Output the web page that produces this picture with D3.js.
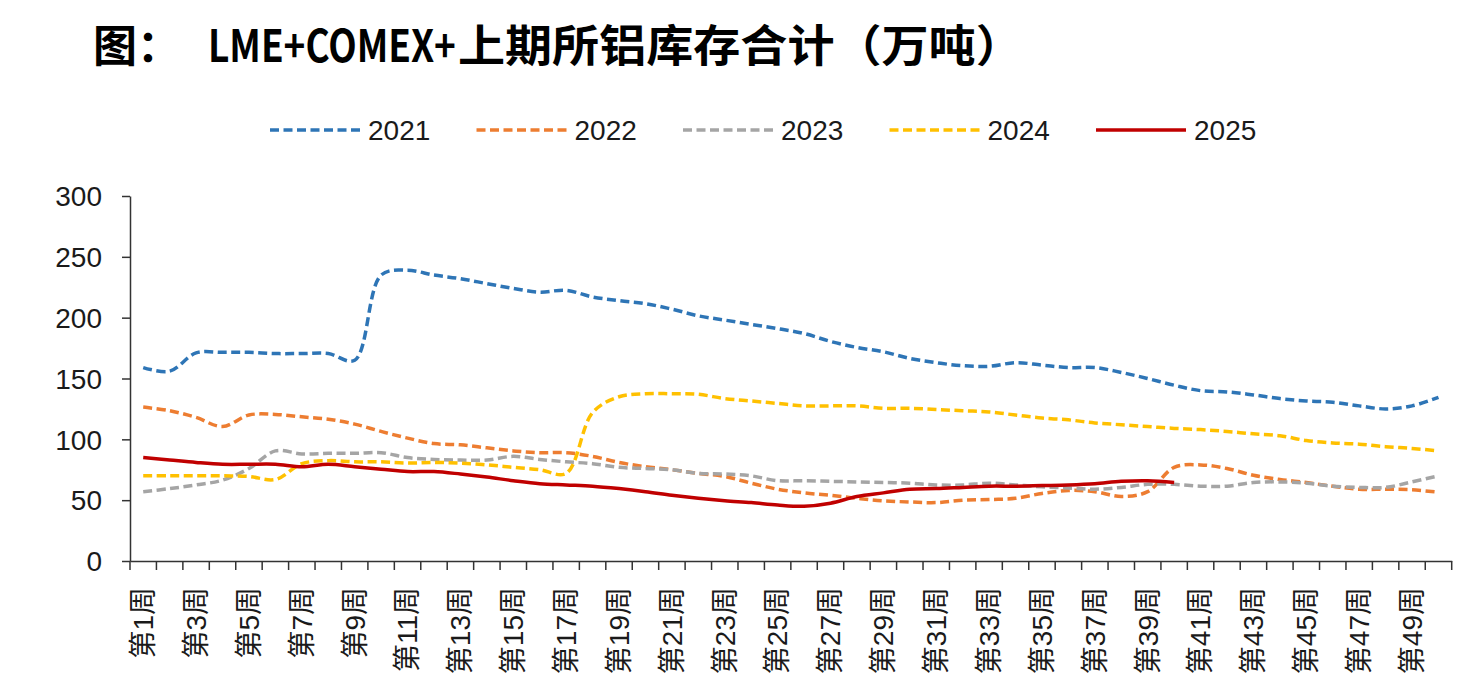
<!DOCTYPE html>
<html>
<head>
<meta charset="utf-8">
<script src="https://cdn.jsdelivr.net/npm/d3@7"></script>
<style>
  body { margin: 0; background: #fff; }
  svg { display: block; }
  text { font-family: "Liberation Sans", Arial, "Noto Sans CJK SC", sans-serif; fill: #1a1a1a; }
</style>
</head>
<body>
<svg id="chart" width="1473" height="684"></svg>
<script>
// weeks 1..50
var weeks = d3.range(1, 51).map(function (d) { return "第" + d + "周"; });
var years = ["2021", "2022", "2023", "2024", "2025"];

var v2021 = [159, 156, 171, 171.5, 171.5, 170.5, 170.5, 170.5, 165, 235,
             239, 235, 232, 228, 224, 221, 222.5, 217, 214, 211.5,
             207, 201.5, 198, 194.5, 191, 187, 180.5, 175.5, 172, 166.5,
             163, 160.5, 160, 163, 161, 159, 159, 155, 150, 144.5,
             140, 139, 136.5, 133.5, 131.5, 130.5, 127.5, 125, 127.5, 134.5];
var v2022 = [126.5, 123.5, 118, 110.5, 120, 120.5, 118.5, 116.5, 112.5, 106.5,
             101, 96.5, 95.5, 93, 90.5, 89, 89, 86, 81, 77.5,
             75, 72, 69.5, 64, 59, 56, 54, 51.5, 49.5, 48.5,
             48, 50, 50.5, 51.5, 55.5, 58, 57, 53, 57, 77,
             79, 76, 70.5, 67, 64.5, 61.5, 59, 59, 58.5, 56.5];
var v2023 = [57, 59.5, 62.5, 66.5, 76, 90.5, 88, 88.5, 88.5, 89,
             85, 83.5, 83, 83, 86, 83.5, 81.5, 80, 77, 76,
             75, 72, 71.5, 70, 66, 66, 65.5, 65, 64.5, 64,
             62.5, 62.5, 64, 62.5, 61, 60, 59, 60.5, 63, 63,
             61.5, 61.5, 64.5, 65, 64, 61.5, 60.5, 60.5, 65, 70];
var v2024 = [70, 70, 70, 70, 69.5, 67, 80, 82.5, 81.5, 81.5,
             80.5, 81, 80.5, 79, 77, 75, 72, 122, 135, 137.5,
             137.5, 137, 133.5, 131.5, 129.5, 127.5, 127.5, 127.5, 125.5, 125.5,
             124.5, 123.5, 122.5, 120, 117.5, 116, 113.5, 112, 110.5, 109,
             108, 106.5, 104.5, 103, 99, 97, 96, 94, 92.5, 90.5];
var v2025 = [85, 83, 81, 79.5, 79.5, 79.5, 77.5, 79.5, 77.5, 75.5,
             73.5, 73.5, 71.5, 69, 66, 63.5, 62.5, 61.5, 59.5, 57,
             54, 51.5, 49.5, 48, 46, 45, 47.5, 53, 56, 59,
             59.5, 60.5, 61.5, 61.5, 62, 62.5, 63.5, 65.5, 66, 64.5];
var yTicks = [0, 50, 100, 150, 200, 250, 300];

var series = [
  { name: "2021", values: v2021, color: "#2E75B6", dash: "9,4.5" },
  { name: "2022", values: v2022, color: "#ED7D31", dash: "9,4.5" },
  { name: "2023", values: v2023, color: "#A5A5A5", dash: "9,4.5" },
  { name: "2024", values: v2024, color: "#FFC000", dash: "9,4.5" },
  { name: "2025", values: v2025, color: "#C00000", dash: null }
];

var svg = d3.select("#chart");
var plotL = 130, plotR = 1451.7, plotT = 196, plotB = 561;

var x = d3.scaleBand().domain(weeks).range([plotL, plotR]).padding(0);
var y = d3.scaleLinear().domain([0, 300]).range([plotB, plotT]);

// title, in pieces; each one squeezed/stretched to the width it has in the original
var ttlFont = "'Noto Sans CJK SC', sans-serif";
function titlePart(px, txt, wanted) {
  var t = svg.append("text").attr("x", 0).attr("y", 0)
    .style("font-family", ttlFont)
    .style("font-weight", "bold").style("font-size", "44px").style("fill", "#000")
    .text(txt);
  var k = wanted ? wanted / t.node().getComputedTextLength() : 1;
  t.attr("transform", "translate(" + px + ",62) scale(" + k + ",1)");
}
titlePart(93, "图：");
titlePart(208, "LME+COMEX+", 248);
titlePart(458, "上期所铝库存合计（万吨）", 565);

// y axis
var yAxis = svg.append("g").attr("transform", "translate(" + plotL + ",0)")
  .call(d3.axisLeft(y).tickValues(yTicks).tickSize(8).tickSizeOuter(0).tickPadding(20));
yAxis.selectAll("text").style("font-size", "28px").attr("dy", "0.35em");
yAxis.selectAll("line, path").attr("stroke", "#333").attr("stroke-width", 1.5);

// x axis: labels on odd weeks, ticks on band boundaries
var xAxis = svg.append("g").attr("transform", "translate(0," + plotB + ")")
  .call(d3.axisBottom(x).tickValues(weeks.filter(function (d, i) { return i % 2 === 0; }))
    .tickSize(0).tickSizeOuter(0));
xAxis.select("path").attr("stroke", "#333").attr("stroke-width", 1.5);
xAxis.selectAll("text")
  .style("font-size", "28px")
  .attr("text-anchor", "end")
  .attr("transform", "rotate(-90)")
  .attr("x", -26).attr("y", 0).attr("dy", "0.35em");
xAxis.selectAll(".bound").data(weeks.concat(["end"])).enter().append("line")
  .attr("class", "bound")
  .attr("x1", function (d) { return d === "end" ? plotR : x(d); })
  .attr("x2", function (d) { return d === "end" ? plotR : x(d); })
  .attr("y1", 0).attr("y2", 9)
  .attr("stroke", "#333").attr("stroke-width", 1.5);

// lines
var line = d3.line()
  .x(function (d, i) { return x(weeks[i]) + x.bandwidth() / 2; })
  .y(function (d) { return y(d); })
  .curve(d3.curveCatmullRom.alpha(0.5));

svg.selectAll(".series").data(series).enter().append("path")
  .attr("class", "series")
  .attr("d", function (s) { return line(s.values); })
  .attr("fill", "none")
  .attr("stroke", function (s) { return s.color; })
  .attr("stroke-width", 3.5)
  .attr("stroke-dasharray", function (s) { return s.dash; });

// legend
var lg = svg.append("g").attr("transform", "translate(270,130)");
var item = lg.selectAll(".item").data(series).enter().append("g")
  .attr("transform", function (d, i) { return "translate(" + (i * 206.5) + ",0)"; });
item.append("line").attr("x1", 0).attr("x2", 90).attr("y1", 0).attr("y2", 0)
  .attr("stroke", function (s) { return s.color; })
  .attr("stroke-width", 3.5)
  .attr("stroke-dasharray", function (s) { return s.dash; });
item.append("text").attr("x", 98).attr("y", 0).attr("dy", "0.36em")
  .style("font-size", "28px").text(function (s) { return s.name; });
</script>
</body>
</html>
